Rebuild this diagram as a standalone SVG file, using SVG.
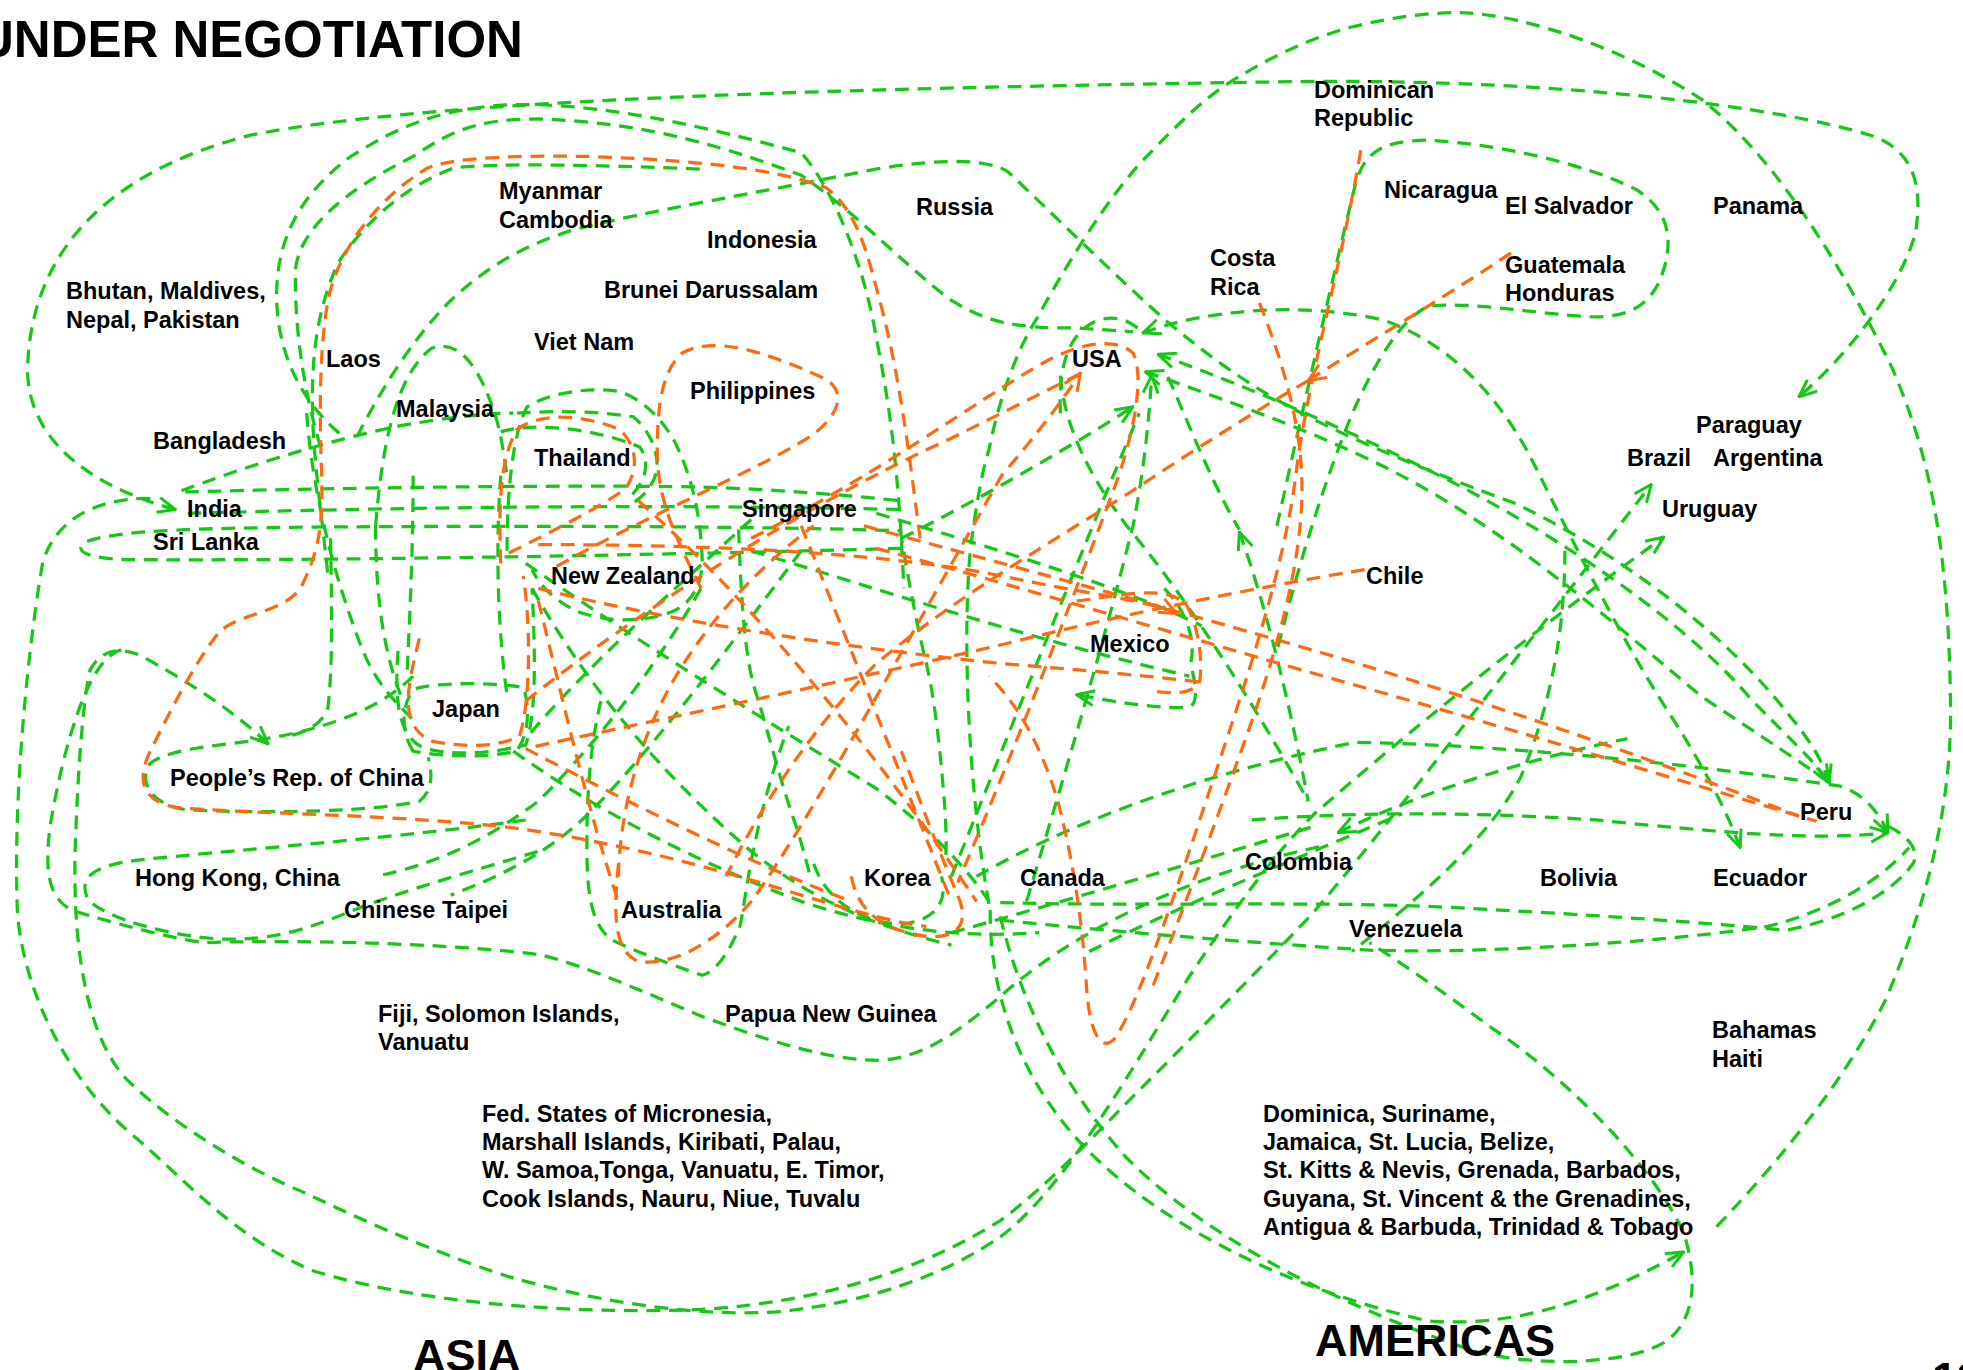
<svg xmlns="http://www.w3.org/2000/svg" width="1963" height="1370" viewBox="0 0 1963 1370">
<defs>
<style>
.g{fill:none;stroke:#16c816;stroke-width:2.6;stroke-dasharray:11 7}
.o{fill:none;stroke:#ff6a10;stroke-width:2.6;stroke-dasharray:11 7}
.t{font-family:"Liberation Sans",Arial,sans-serif;font-weight:bold;font-size:23.5px;fill:#000}
.big{font-family:"Liberation Sans",Arial,sans-serif;font-weight:bold;fill:#000}
</style>
<marker id="ag" viewBox="0 0 16 14" refX="15" refY="7" markerWidth="16" markerHeight="14" markerUnits="userSpaceOnUse" orient="auto-start-reverse"><path d="M1,1 L15,7 L1,13" fill="none" stroke="#16c816" stroke-width="2.4"/></marker>
<marker id="ao" viewBox="0 0 16 14" refX="15" refY="7" markerWidth="16" markerHeight="14" markerUnits="userSpaceOnUse" orient="auto-start-reverse"><path d="M1,1 L15,7 L1,13" fill="none" stroke="#ff6a10" stroke-width="2.4"/></marker>
</defs>
<rect width="1963" height="1370" fill="#fff"/>
<g id="connectors" transform="scale(1.2519)">
<path class="g" marker-start="url(#ag)" marker-end="url(#ag)" d="M140,407 C70,388 22,350 22,295 C24,210 75,140 200,108 C350,78 700,70 1050,65 C1250,64 1420,85 1494,108 C1530,120 1536,150 1530,186 C1520,225 1480,280 1437,317"/>
<path class="g" d="M271,346 C240,320 220,280 221,232 C222,190 240,155 280,125 C320,100 350,88 400,84 C470,80 560,100 640,122 C665,150 690,210 700,270 C712,330 718,380 722,470"/>
<path class="g" d="M256,357 C245,320 235,270 236,215 C240,180 280,150 330,125 C360,105 380,95 430,95 C520,98 580,118 640,140 C690,175 720,210 760,240 C790,258 810,262 860,262 L905,265"/>
<path class="g" d="M559,135 C480,132 400,130 363,134 C320,150 290,180 270,210 C252,250 248,290 250,340 C252,380 258,420 262,460"/>
<path class="g" marker-end="url(#ag)" d="M285,349 C305,310 330,270 360,240 C390,212 420,195 460,183 C520,168 600,155 700,135 C750,127 790,126 806,138 C840,170 880,210 930,255 C960,280 990,303 1030,325 C1080,352 1150,380 1210,402 C1290,440 1370,500 1420,560 C1445,590 1455,605 1461,625"/>
<path class="g" d="M790,722 C775,640 768,520 775,440 C780,400 785,375 790,359 C800,310 815,275 829,253 C850,215 880,165 911,130 C940,100 960,80 982,66 C1020,42 1050,30 1078,22 C1110,14 1140,10 1167,10 C1220,12 1300,40 1360,80 C1410,120 1460,190 1511,293 C1540,360 1556,430 1558,557 C1560,640 1540,720 1506,799 C1470,870 1410,940 1368,983"/>
<path class="g" marker-end="url(#ag)" d="M120,398 C70,398 42,420 34,450 C22,520 10,640 14,730 C20,800 60,870 110,910 C150,945 190,990 250,1015 C330,1040 450,1050 560,1046 C660,1040 740,1012 799,975 C840,945 880,900 934,847 C980,800 1020,760 1049,729 C1100,670 1200,540 1319,387"/>
<path class="g" marker-start="url(#ag)" marker-end="url(#ag)" d="M214,594 C180,562 143,541 115,525 C95,515 80,520 72,535 C66,560 62,620 60,680 C58,760 70,830 102,863 C140,900 200,935 244,953 C300,980 360,1005 407,1020 C470,1038 550,1052 620,1048 C700,1040 760,1015 799,988 C850,950 900,860 950,780 C990,720 1020,680 1050,650 C1130,580 1230,500 1329,429"/>
<path class="g" d="M97,519 C70,525 50,600 40,660 C35,700 40,720 60,728 C100,740 140,750 163,753 C250,750 380,755 433,763 C470,772 520,795 561,812 C610,830 660,847 703,847 C740,845 770,820 799,796 C850,750 940,700 1060,675"/>
<path class="g" d="M420,655 C330,668 200,678 120,686 C75,690 62,700 70,718 C85,735 140,748 175,750 C220,752 250,740 280,728 C320,712 380,695 430,680"/>
<path class="g" d="M330,540 C300,570 250,585 200,592 C160,597 128,600 118,612 C112,628 122,643 150,647 C220,650 300,648 335,640 C345,632 346,620 342,605"/>
<path class="g" d="M264,430 C265,480 266,530 262,565 C258,578 245,585 230,588"/>
<path class="g" d="M330,600 C320,585 320,560 332,550 C350,545 390,545 418,549 C424,565 422,590 412,600 C390,606 350,604 330,600 Z"/>
<path class="g" d="M318,520 C315,560 318,590 340,598 C370,605 400,600 420,595 C428,570 428,530 425,470"/>
<path class="g" d="M245,330 C250,400 270,470 290,520 C300,545 315,560 330,575"/>
<path class="g" d="M300,420 C300,470 305,520 322,560"/>
<path class="g" d="M330,380 C330,430 328,480 325,540"/>
<path class="g" d="M400,380 C396,430 397,500 405,555"/>
<path class="g" d="M300,420 C305,360 315,300 345,278 C370,270 385,300 395,330 C400,345 402,360 405,380"/>
<path class="g" d="M405,440 C405,390 410,345 421,325 C440,313 470,310 490,312 C510,315 530,335 540,355 C552,380 560,410 561,450 C560,470 550,485 533,490 C510,498 480,496 460,488 C445,480 432,470 425,455"/>
<path class="g" d="M413,330 C429,329 469,327 506,333 C520,345 525,360 525,373 C523,390 510,400 500,405"/>
<path class="g" d="M400,345 C420,338 470,340 511,357 C520,370 515,385 505,395"/>
<path class="g" d="M148,393 C250,390 450,387 560,389 C620,391 670,395 720,400"/>
<path class="g" d="M150,410 C300,406 500,402 720,407"/>
<path class="g" d="M720,438 C500,444 250,448 100,447 C70,446 58,440 68,433 C90,424 150,422 250,421 C400,420 600,420 720,424"/>
<path class="g" d="M145,392 C190,375 260,352 320,340 C360,333 390,330 410,330"/>
<path class="g" d="M600,415 C540,470 470,530 420,590"/>
<path class="g" d="M560,470 C520,540 470,600 430,640 C390,670 350,690 300,700"/>
<path class="g" d="M640,440 C580,520 520,600 470,650 C440,680 400,700 360,715"/>
<path class="g" d="M590,423 C592,480 595,530 605,557 C615,590 625,630 637,663 C642,680 646,695 648,703"/>
<path class="g" d="M719,423 C725,460 733,503 740,530 C748,565 752,610 755,649 C756,670 756,680 755,690"/>
<path class="g" d="M425,470 C470,550 530,620 600,680 C650,720 700,740 760,755"/>
<path class="g" d="M410,600 C480,650 560,690 640,720 C700,740 760,750 830,745"/>
<path class="g" d="M420,450 C520,520 620,580 700,630 C740,660 770,690 790,720"/>
<path class="g" d="M650,690 C660,720 690,738 720,738 C745,736 758,722 752,700"/>
<path class="g" d="M480,560 C470,600 468,650 469,690 C470,720 474,740 489,751 C510,761 540,772 561,779 C570,777 581,764 591,740 C595,725 600,660 630,580"/>
<path class="g" d="M760,700 C800,600 860,450 910,330"/>
<path class="g" marker-end="url(#ag)" d="M820,720 C850,620 880,520 905,420 C915,370 918,330 920,300"/>
<path class="g" marker-end="url(#ag)" d="M720,430 C780,400 850,360 905,325"/>
<path class="g" d="M847,330 C845,290 855,262 880,255 C895,252 905,258 912,265"/>
<path class="g" d="M847,300 C850,340 870,380 900,420 C950,480 1000,560 1045,640"/>
<path class="g" marker-start="url(#ag)" marker-end="url(#ag)" d="M913,266 C960,248 1040,240 1106,256 C1160,275 1200,320 1225,370 C1260,440 1300,520 1340,580 C1365,620 1380,650 1390,677"/>
<path class="g" marker-start="url(#ag)" marker-end="url(#ag)" d="M925,283 C1000,310 1080,345 1150,380 C1250,430 1350,500 1400,560 C1440,600 1455,615 1461,625"/>
<path class="g" marker-start="url(#ag)" d="M915,297 C980,320 1050,345 1106,373 C1200,420 1280,490 1360,557 C1410,590 1440,610 1461,625"/>
<path class="g" d="M933,301 C950,340 970,390 990,423"/>
<path class="g" marker-start="url(#ag)" d="M990,425 C1010,480 1030,560 1045,640"/>
<path class="g" d="M1020,420 C1040,330 1065,220 1082,150 C1088,125 1100,112 1140,112 C1200,115 1270,132 1308,152 C1335,170 1338,195 1325,226 C1315,245 1300,254 1270,253 C1220,250 1170,240 1140,245 C1120,255 1100,285 1079,333 C1060,380 1040,440 1020,520"/>
<path class="g" d="M1250,440 C1250,500 1240,560 1215,620 C1190,670 1130,720 1080,760"/>
<path class="g" marker-start="url(#ag)" d="M1069,665 C1150,625 1250,600 1300,590"/>
<path class="g" marker-end="url(#ag)" d="M780,700 C850,660 950,620 1082,593 C1200,595 1350,610 1470,628 C1490,635 1500,648 1508,665"/>
<path class="g" marker-end="url(#ag)" d="M1000,655 C1100,647 1200,650 1275,655 C1376,665 1450,672 1508,665"/>
<path class="g" d="M799,721 C900,724 1040,720 1142,724 C1241,729 1339,735 1427,743 C1470,735 1510,715 1528,690 C1535,678 1520,665 1508,660"/>
<path class="g" d="M799,735 C900,745 1000,753 1094,759 C1200,762 1339,751 1412,740 C1460,728 1500,705 1525,677"/>
<path class="g" marker-end="url(#ag)" d="M791,727 C790,800 820,870 870,920 C930,980 1030,1030 1140,1055 C1220,1062 1290,1030 1345,1000"/>
<path class="g" d="M799,732 C815,800 850,870 900,925 C960,985 1060,1040 1180,1080 C1230,1092 1300,1090 1330,1072 C1355,1055 1356,1020 1345,985 C1320,930 1250,860 1190,820 C1150,790 1120,770 1094,753"/>
<path class="g" d="M760,745 C850,720 950,690 1050,660"/>
<path class="g" d="M870,760 C950,720 1050,680 1120,650"/>
<path class="g" marker-end="url(#ag)" d="M930,470 C950,490 955,515 951,530 C958,557 955,565 947,565 C929,566 897,562 860,555"/>
<path class="g" d="M600,440 C700,470 820,510 950,540"/>
<path class="g" d="M700,410 C800,440 900,470 960,500"/>
<path class="o" d="M735,430 C728,380 720,300 700,230 C690,190 680,165 660,150 C620,135 560,128 470,125 C420,124 360,125 340,135 C300,160 270,200 262,240 C255,280 255,330 257,380 C258,420 255,440 240,470 C225,490 190,490 175,505 C155,530 135,570 120,600 C108,625 115,640 140,645 C200,650 300,650 400,660 C480,670 560,690 640,715 C690,730 720,738 740,740"/>
<path class="o" d="M560,470 C540,430 525,400 525,360 C525,320 530,295 545,282 C570,268 610,280 660,303 C678,315 668,335 645,350 C600,378 520,410 440,455"/>
<path class="o" d="M400,450 C398,400 400,365 413,343 C430,330 463,330 495,343 C508,355 511,373 500,390 C480,405 440,425 400,445"/>
<path class="o" d="M335,510 C325,550 318,580 345,592 C375,598 400,596 415,588 C424,560 424,500 418,460"/>
<path class="o" d="M690,420 C800,450 950,490 1078,528 C1200,565 1330,610 1437,652"/>
<path class="o" d="M700,438 C820,470 950,510 1078,546 C1200,580 1330,620 1451,656"/>
<path class="o" d="M1090,455 C1000,470 900,490 800,515 C650,550 500,580 420,598"/>
<path class="o" d="M430,470 C550,500 700,520 800,530 C860,535 920,540 960,545"/>
<path class="o" marker-end="url(#ao)" d="M430,435 C550,435 700,440 800,460 C870,475 920,480 940,490"/>
<path class="o" marker-end="url(#ao)" d="M494,690 C490,730 490,760 510,768 C540,772 575,750 601,719 C650,650 720,520 800,380 C830,345 850,318 863,298"/>
<path class="o" d="M494,700 C495,650 510,590 540,540 C570,490 610,450 650,420"/>
<path class="o" d="M600,430 C700,380 780,320 833,290 C860,275 890,268 905,282 C915,300 905,350 890,390 C860,470 810,600 765,705"/>
<path class="o" marker-end="url(#ao)" d="M1207,202 C1150,240 1090,275 1045,304"/>
<path class="o" d="M1045,304 C1000,330 950,362 900,395 C820,445 760,480 700,530 C650,580 610,640 580,700"/>
<path class="o" d="M1087,120 C1070,220 1045,300 1035,380 C1025,460 990,560 960,650 C930,740 905,810 890,830 C878,842 870,820 868,790 C865,740 858,690 845,640 C830,590 810,560 790,540"/>
<path class="o" d="M1006,242 C1025,290 1040,340 1040,390 C1040,450 1020,520 995,590 C970,660 940,740 920,790"/>
<path class="o" d="M680,700 C685,725 700,742 740,748 C765,750 775,738 765,715 C750,680 735,640 720,600"/>
<path class="o" d="M420,598 C500,640 600,690 680,720"/>
<path class="o" d="M420,560 C520,480 650,400 760,350 C800,330 830,315 860,300"/>
<path class="o" d="M430,480 C450,560 470,650 494,720"/>
<path class="o" d="M640,420 C680,520 720,620 760,720"/>
<path class="o" d="M510,400 C600,480 700,600 780,720"/>
<path class="o" d="M860,480 C890,477 929,466 947,482 C958,500 961,530 958,546 C950,555 936,554 920,552"/>
</g>
<g id="title"><text class="big" x="-23" y="57" font-size="51">UNDER NEGOTIATION</text></g>
<g id="n-bhutan"><text class="t" x="66" y="299">Bhutan, Maldives,</text><text class="t" x="66" y="328">Nepal, Pakistan</text></g>
<g id="n-myanmar"><text class="t" x="499" y="199">Myanmar</text><text class="t" x="499" y="228">Cambodia</text></g>
<g id="n-laos"><text class="t" x="326" y="367">Laos</text></g>
<g id="n-malaysia"><text class="t" x="396" y="417">Malaysia</text></g>
<g id="n-bangladesh"><text class="t" x="153" y="449">Bangladesh</text></g>
<g id="n-vietnam"><text class="t" x="534" y="350">Viet Nam</text></g>
<g id="n-brunei"><text class="t" x="604" y="298">Brunei Darussalam</text></g>
<g id="n-russia"><text class="t" x="916" y="215">Russia</text></g>
<g id="n-indonesia"><text class="t" x="707" y="248">Indonesia</text></g>
<g id="n-costarica"><text class="t" x="1210" y="266">Costa</text><text class="t" x="1210" y="295">Rica</text></g>
<g id="n-usa"><text class="t" x="1072" y="367">USA</text></g>
<g id="n-philippines"><text class="t" x="690" y="399">Philippines</text></g>
<g id="n-dominican"><text class="t" x="1314" y="98">Dominican</text><text class="t" x="1314" y="126">Republic</text></g>
<g id="n-nicaragua"><text class="t" x="1384" y="198">Nicaragua</text></g>
<g id="n-elsalvador"><text class="t" x="1505" y="214">El Salvador</text></g>
<g id="n-panama"><text class="t" x="1713" y="214">Panama</text></g>
<g id="n-guatemala"><text class="t" x="1505" y="273">Guatemala</text><text class="t" x="1505" y="301">Honduras</text></g>
<g id="n-paraguay"><text class="t" x="1696" y="433">Paraguay</text></g>
<g id="n-brazil"><text class="t" x="1627" y="466">Brazil</text></g>
<g id="n-argentina"><text class="t" x="1713" y="466">Argentina</text></g>
<g id="n-uruguay"><text class="t" x="1662" y="517">Uruguay</text></g>
<g id="n-chile"><text class="t" x="1366" y="584">Chile</text></g>
<g id="n-peru"><text class="t" x="1800" y="820">Peru</text></g>
<g id="n-bolivia"><text class="t" x="1540" y="886">Bolivia</text></g>
<g id="n-ecuador"><text class="t" x="1713" y="886">Ecuador</text></g>
<g id="n-india"><text class="t" x="187" y="517">India</text></g>
<g id="n-srilanka"><text class="t" x="153" y="550">Sri Lanka</text></g>
<g id="n-thailand"><text class="t" x="534" y="466">Thailand</text></g>
<g id="n-newzealand"><text class="t" x="551" y="584">New Zealand</text></g>
<g id="n-singapore"><text class="t" x="742" y="517">Singapore</text></g>
<g id="n-mexico"><text class="t" x="1090" y="652">Mexico</text></g>
<g id="n-japan"><text class="t" x="432" y="717">Japan</text></g>
<g id="n-prc"><text class="t" x="170" y="786">People’s Rep. of China</text></g>
<g id="n-hongkong"><text class="t" x="135" y="886">Hong Kong, China</text></g>
<g id="n-taipei"><text class="t" x="344" y="918">Chinese Taipei</text></g>
<g id="n-australia"><text class="t" x="621" y="918">Australia</text></g>
<g id="n-korea"><text class="t" x="864" y="886">Korea</text></g>
<g id="n-canada"><text class="t" x="1020" y="886">Canada</text></g>
<g id="n-colombia"><text class="t" x="1245" y="870">Colombia</text></g>
<g id="n-venezuela"><text class="t" x="1349" y="937">Venezuela</text></g>
<g id="n-fiji"><text class="t" x="378" y="1022">Fiji, Solomon Islands,</text><text class="t" x="378" y="1050">Vanuatu</text></g>
<g id="n-png"><text class="t" x="725" y="1022">Papua New Guinea</text></g>
<g id="n-bahamas"><text class="t" x="1712" y="1038">Bahamas</text><text class="t" x="1712" y="1067">Haiti</text></g>
<g id="n-micronesia"><text class="t" x="482" y="1122">Fed. States of Micronesia,</text><text class="t" x="482" y="1150">Marshall Islands, Kiribati, Palau,</text><text class="t" x="482" y="1178">W. Samoa,Tonga, Vanuatu, E. Timor,</text><text class="t" x="482" y="1207">Cook Islands, Nauru, Niue, Tuvalu</text></g>
<g id="n-caribbean"><text class="t" x="1263" y="1122">Dominica, Suriname,</text><text class="t" x="1263" y="1150">Jamaica, St. Lucia, Belize,</text><text class="t" x="1263" y="1178">St. Kitts &amp; Nevis, Grenada, Barbados,</text><text class="t" x="1263" y="1207">Guyana, St. Vincent &amp; the Grenadines,</text><text class="t" x="1263" y="1235">Antigua &amp; Barbuda, Trinidad &amp; Tobago</text></g>
<g id="r-asia"><text class="big" x="413" y="1371" font-size="45">ASIA</text></g>
<g id="r-americas"><text class="big" x="1315" y="1356" font-size="45">AMERICAS</text></g>
<g id="pagenum"><text class="big" x="1932" y="1394" font-size="45">13</text></g>
</svg>
